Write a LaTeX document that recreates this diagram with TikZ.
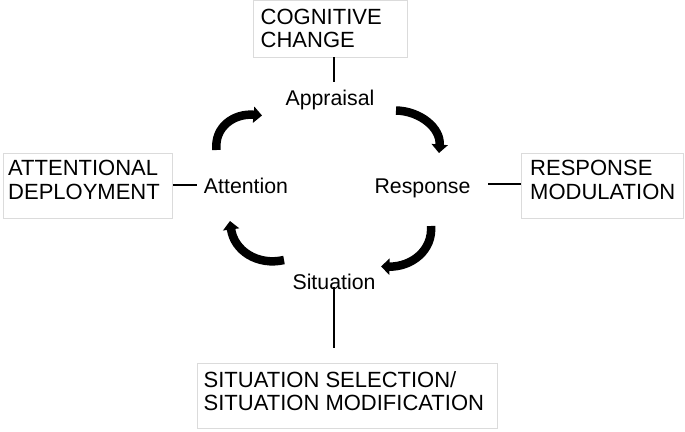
\documentclass[tikz,border=0pt]{standalone}
\usepackage{fontspec}
\setmainfont{Liberation Sans}
\usetikzlibrary{arrows.meta}
\begin{document}
\begin{tikzpicture}[x=1pt,y=-1pt,
  every node/.style={font=\fontsize{21.3}{23.4}\selectfont},
  boxframe/.style={draw=black!14,line width=0.9pt,inner sep=0pt,anchor=north west},
  boxtext/.style={anchor=north west,inner sep=0pt,align=left,font=\fontsize{22}{23.6}\selectfont},
  stage/.style={anchor=base,inner sep=0pt},
  link/.style={line width=1.2pt,black},
  cycle/.style={line width=8.5pt,-{Triangle[width=16pt,length=8.5pt]}}]
\useasboundingbox[fill=white] (0,0) rectangle (685,431);
% boxes
\node[boxframe,minimum width=154pt,minimum height=57pt] (cogbox) at (253,0) {};
\node[boxtext] (cogtext) at (260.5,8.6) {COGNITIVE\\CHANGE};
\node[boxframe,minimum width=169pt,minimum height=65pt] (attbox) at (3,153) {};
\node[boxtext] (atttext) at (8,160) {ATTENTIONAL\\DEPLOYMENT};
\node[boxframe,minimum width=162pt,minimum height=65pt] (respbox) at (521,153) {};
\node[boxtext] (resptext) at (530,160) {RESPONSE\\MODULATION};
\node[boxframe,minimum width=300pt,minimum height=65pt] (sitbox) at (197,363) {};
\node[boxtext] (sittext) at (203.5,371.2) {SITUATION SELECTION/\\SITUATION MODIFICATION};
% stage labels
\node[stage] (apr) at (330,105.5) {Appraisal};
\node[stage] (attn) at (246,193) {Attention};
\node[stage] (resp) at (422.5,193) {Response};
\node[stage] (sit) at (334,289) {Situation};
% connectors
\coordinate (c1) at (334,57);
\coordinate (c2) at (334,82);
\draw[link] (c1) -- (c2);
\coordinate (l1) at (197,185);
\draw[link] (attbox.east |- l1) -- (l1);
\coordinate (r1) at (488,184);
\draw[link] (r1) -- (respbox.west |- r1);
\coordinate (s1) at (334,287);
\coordinate (s2) at (334,348);
\draw[link] (s1) -- (s2);
% cycle arrows
\coordinate (a1s) at (216.5,150);
\coordinate (a1e) at (262,115.5);
\draw[cycle] (a1s) .. controls (214,127) and (234,113) .. (a1e);
\coordinate (a2s) at (396,110.5);
\coordinate (a2e) at (439,153);
\draw[cycle] (a2s) .. controls (420,111) and (441,128) .. (a2e);
\coordinate (a3s) at (431,226);
\coordinate (a3e) at (381,266.5);
\draw[cycle] (a3s) .. controls (433,250) and (412,267) .. (a3e);
\coordinate (a4s) at (284,260);
\coordinate (a4e) at (230,221);
\draw[cycle] (a4s) .. controls (258,266) and (234,251) .. (a4e);
\end{tikzpicture}
\end{document}
